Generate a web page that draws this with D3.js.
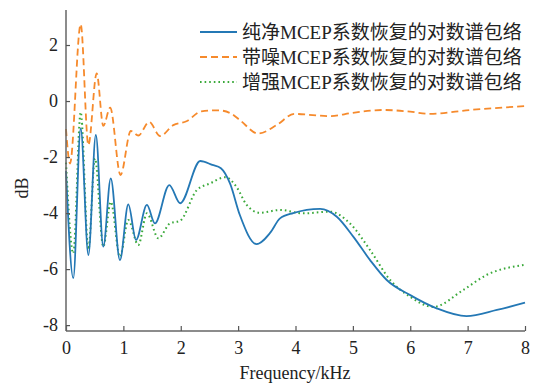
<!DOCTYPE html>
<html>
  <head>
    <meta charset="utf-8">
    <title>MCEP log spectrum envelope</title>
    <script src="https://cdnjs.cloudflare.com/ajax/libs/d3/7.8.5/d3.min.js" charset="utf-8"></script>
    <style>
      body { margin: 0; background: #fff; }
      svg text { font-family: "Liberation Serif", "Noto Sans CJK SC", serif; fill: #222; }
    </style>
  </head>
  <body>
    <div id="chart"></div>
    <script>

// series names (legend)
var names = ["纯净MCEP系数恢复的对数谱包络", "带噪MCEP系数恢复的对数谱包络", "增强MCEP系数恢复的对数谱包络"];

// clean: [kHz, dB]
var clean = [
  [0, -2.5], [0.127, -6.32], [0.256, -0.98], [0.39, -5.5], [0.52, -1.21], [0.65, -5.2],
  [0.78, -2.76], [0.94, -5.68], [1.086, -3.69], [1.22, -4.96], [1.41, -3.71], [1.55, -4.37],
  [1.80, -3.0], [1.99, -3.65], [2.34, -2.14], [2.55, -2.28], [2.70, -2.4], [2.86, -2.95],
  [3.03, -4.07], [3.32, -5.11], [3.56, -4.7], [3.73, -4.19], [3.96, -4.0], [4.43, -3.85],
  [4.72, -4.13], [5.01, -4.85], [5.30, -5.68], [5.59, -6.39], [6.0, -6.93], [6.46, -7.40],
  [6.98, -7.68], [7.51, -7.46], [8.0, -7.2]
];

// noisy
var noisy = [
  [0, -1.0], [0.07, -2.23], [0.256, 2.74], [0.39, -1.57], [0.535, 0.99], [0.65, -0.89],
  [0.77, -0.24], [0.95, -2.64], [1.13, -1.07], [1.26, -1.23], [1.45, -0.75], [1.64, -1.25],
  [1.87, -0.86], [2.10, -0.72], [2.36, -0.37], [2.65, -0.33], [2.88, -0.45], [3.03, -0.68],
  [3.35, -1.16], [3.67, -0.86], [3.98, -0.46], [4.3, -0.5], [4.6, -0.54], [5.0, -0.42],
  [5.53, -0.32], [6.0, -0.38], [6.34, -0.46], [7.04, -0.32], [8.0, -0.18]
];

// enhanced
var enhanced = [
  [0, -2.2], [0.127, -5.44], [0.256, -0.4], [0.39, -5.3], [0.505, -2.05], [0.65, -5.2],
  [0.78, -3.6], [0.94, -5.56], [1.086, -4.25], [1.26, -5.14], [1.41, -4.01], [1.61, -4.9],
  [1.81, -4.37], [1.99, -4.27], [2.28, -3.18], [2.51, -2.94], [2.78, -2.72], [2.97, -3.06],
  [3.15, -3.71], [3.38, -3.99], [3.73, -3.89], [4.14, -4.01], [4.6, -3.95], [4.95, -4.37],
  [5.30, -5.32], [5.65, -6.39], [6.0, -6.99], [6.40, -7.35], [6.92, -6.75], [7.33, -6.21],
  [8.0, -5.85]
];

var xTicks = [0, 1, 2, 3, 4, 5, 6, 7, 8];
var yTicks = [-8, -6, -4, -2, 0, 2];

var W = 541, H = 385;
var svg = d3.select("#chart").append("svg").attr("width", W).attr("height", H);

var x = d3.scaleLinear().domain([0, 8]).range([66, 525]);
var y = d3.scaleLinear().domain([-8.21, 3.25]).range([331, 10]);

var line = d3.line()
    .x(function(d) { return x(d[0]); })
    .y(function(d) { return y(d[1]); })
    .curve(d3.curveMonotoneX);

var styles = [
  {data: clean, color: "#2478b5", dash: null, w: 1.8},
  {data: noisy, color: "#f68a2c", dash: "7,4", w: 1.8},
  {data: enhanced, color: "#3aa93a", dash: "1.6,3", w: 2}
];

// draw enhanced under, then clean, then noisy
[2, 0, 1].forEach(function(i) {
  var s = styles[i];
  svg.append("path")
      .datum(s.data)
      .attr("d", line)
      .attr("fill", "none")
      .attr("stroke", s.color)
      .attr("stroke-width", s.w)
      .attr("stroke-dasharray", s.dash);
});

// axes
var xAxis = d3.axisBottom(x).tickValues(xTicks).tickSize(-5).tickPadding(10).tickFormat(d3.format("d"));
var yAxis = d3.axisLeft(y).tickValues(yTicks).tickSize(-4).tickPadding(8).tickFormat(function(d) { return d; });

var gx = svg.append("g").attr("transform", "translate(0,331)").call(xAxis);
var gy = svg.append("g").attr("transform", "translate(66,0)").call(yAxis);

[gx, gy].forEach(function(g) {
  g.attr("font-family", "Liberation Serif").attr("font-size", 18);
  g.select(".domain").attr("stroke", "#666").attr("stroke-width", 1.5);
  g.selectAll(".tick line").attr("stroke", "#555").attr("stroke-width", 1.2);
  g.selectAll(".tick text").attr("fill", "#222");
});
gx.select(".domain").attr("d", "M66,0H525");
gy.select(".domain").attr("d", "M0,331V10");

svg.append("text")
    .attr("x", 295).attr("y", 379)
    .attr("text-anchor", "middle")
    .style("font-size", "18px")
    .text("Frequency/kHz");

svg.append("text")
    .attr("transform", "translate(22,188) rotate(-90)")
    .attr("text-anchor", "middle")
    .attr("dominant-baseline", "central")
    .style("font-size", "18px")
    .text("dB");

// legend
var leg = svg.append("g");
names.forEach(function(n, i) {
  var yy = 32 + i * 25;
  var s = styles[i];
  leg.append("line")
      .attr("x1", 200).attr("x2", 237)
      .attr("y1", yy).attr("y2", yy)
      .attr("stroke", s.color)
      .attr("stroke-width", s.w)
      .attr("stroke-dasharray", s.dash);
  leg.append("text")
      .attr("x", 242).attr("y", yy)
      .attr("dominant-baseline", "central")
      .style("font-size", "19px")
      .text(n);
});

    </script>
  </body>
</html>
